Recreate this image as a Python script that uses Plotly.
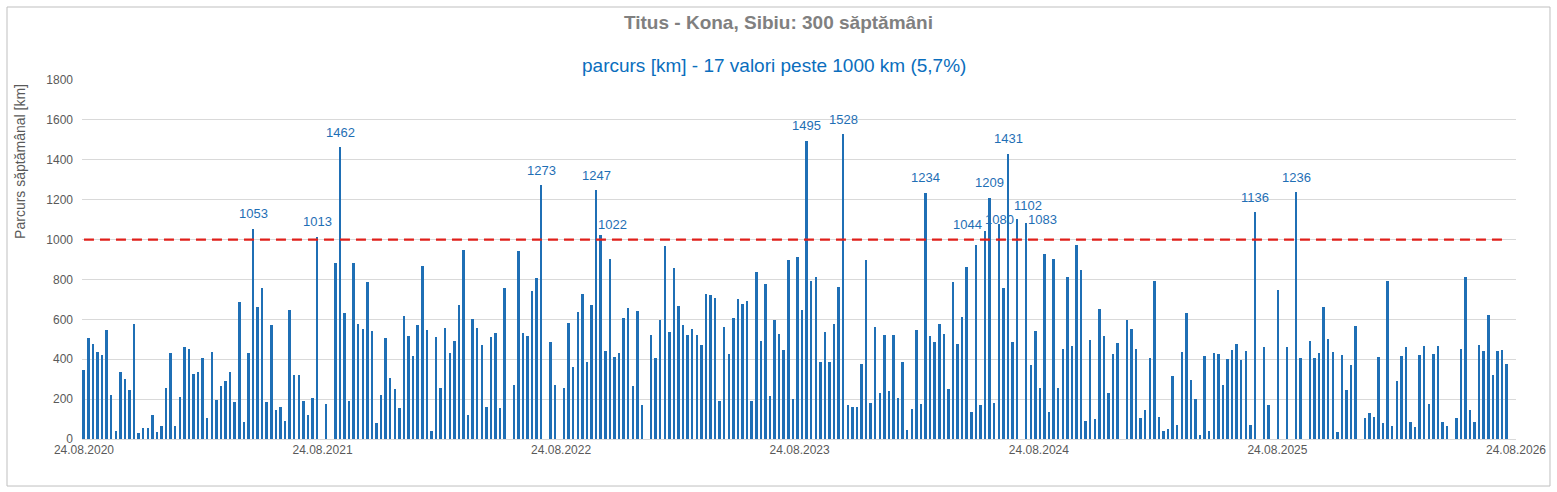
import pandas as pd
import plotly.graph_objects as go

# weekly km, one value per week starting 24.08.2020 (0 = no data that week)
km = [
    348, 508, 478, 438, 423, 548, 223, 38, 338, 303, 248, 578, 28, 53, 53, 118, 33, 63, 258, 433, 63, 213, 463, 453, 328, 338,
    408, 103, 438, 198, 268, 293, 338, 188, 688, 83, 433, 1053, 663, 758, 188, 573, 143, 158, 88, 648, 323, 323, 193, 118, 208, 1013,
    0, 178, 0, 883, 1462, 633, 193, 883, 578, 553, 788, 543, 78, 223, 508, 308, 253, 153, 618, 518, 418, 573, 868, 548, 38, 513, 258,
    558, 433, 493, 673, 948, 118, 603, 558, 473, 158, 513, 533, 153, 758, 0, 273, 943, 533, 518, 743, 808, 1273, 0, 488, 273,
    0, 258, 583, 363, 638, 728, 388, 673, 1247, 1022, 443, 903, 413, 433, 608, 658, 268, 643, 173, 0, 523, 408, 598, 968, 538, 858,
    668, 573, 523, 553, 523, 473, 728, 723, 708, 193, 563, 428, 608, 703, 678, 693, 193, 838, 493, 778, 218, 598, 528, 448, 898, 203,
    913, 648, 1495, 793, 813, 388, 538, 388, 578, 763, 1528, 168, 158, 158, 378, 898, 183, 563, 233, 523, 243, 523, 208, 388, 43, 148,
    548, 178, 1234, 518, 488, 578, 528, 253, 788, 478, 613, 863, 133, 973, 168, 1044, 1209, 183, 1080, 758, 1431, 488, 1102, 0, 1083, 373,
    543, 258, 928, 133, 903, 258, 453, 813, 468, 973, 848, 88, 498, 98, 653, 518, 233, 428, 483, 0, 598, 553, 453, 105, 143, 408,
    793, 108, 38, 48, 318, 68, 438, 633, 298, 203, 18, 418, 38, 433, 428, 273, 403, 448, 478, 398, 443, 68, 1136, 0, 463, 168,
    0, 748, 0, 463, 0, 1236, 408, 0, 493, 408, 433, 663, 503, 438, 33, 423, 248, 373, 568, 0, 103, 128, 108, 413, 78, 793,
    63, 293, 418, 463, 83, 58, 423, 468, 178, 428, 468, 83, 63, 0, 105, 450, 813, 143, 83, 470, 443, 623, 323, 443, 448, 378,
]
weeks = pd.date_range("2020-08-24", periods=len(km), freq="7D")

threshold = 1000
tick_dates = ["2020-08-24", "2021-08-24", "2022-08-24", "2023-08-24",
              "2024-08-24", "2025-08-24", "2026-08-24"]
tick_text = ["24.08.2020", "24.08.2021", "24.08.2022", "24.08.2023",
             "24.08.2024", "24.08.2025", "24.08.2026"]

# label nudges (xshift, yshift) where Excel moved the labels apart
label_offsets = {1022: (12, 11), 1044: (-18, 6), 1080: (0, 4), 1102: (11, 14), 1083: (16, 4)}

FONT = "Liberation Sans"
BLUE = "#1f6fb5"
GREY = "#595959"

fig = go.Figure()
fig.add_trace(go.Bar(x=weeks, y=km, marker_color=BLUE, width=3 * 86400000,
                     marker_line_width=0, showlegend=False, hoverinfo="skip"))
fig.add_trace(go.Scatter(x=[weeks[0], weeks[-1]], y=[threshold, threshold], mode="lines",
                         line=dict(color="#e0201b", width=2.2, dash="10px,6px"),
                         showlegend=False, hoverinfo="skip"))

for d, v in zip(weeks, km):
    if v > threshold:
        dx, dy = label_offsets.get(v, (0, 15))
        fig.add_annotation(x=d, y=v, text=str(v), showarrow=False, xshift=dx, yshift=dy,
                           yanchor="middle", font=dict(family=FONT, size=13, color=BLUE))

# subtitle and y title (Excel puts the axis title high up)
fig.add_annotation(xref="paper", yref="paper", x=0.4826, y=1.039, showarrow=False,
                   xanchor="center", yanchor="middle",
                   text="parcurs [km] - 17 valori peste 1000 km (5,7%)",
                   font=dict(family=FONT, size=19, color="#0a6ebd"))
fig.add_annotation(xref="paper", yref="paper", x=-0.0432, y=0.772, showarrow=False,
                   xanchor="center", yanchor="middle",
                   text="Parcurs săptămânal [km]", textangle=-90,
                   font=dict(family=FONT, size=14, color=GREY))

# chart border
fig.add_shape(type="rect", xref="paper", yref="paper", x0=-0.0523, x1=1.0237, y0=-0.131, y1=1.2033,
              line=dict(color="#bfbfbf", width=1), layer="below")

fig.update_layout(
    width=1557, height=492,
    margin=dict(l=82, r=41, t=80, b=53),
    plot_bgcolor="white", paper_bgcolor="white",
    hovermode=False,
    title=dict(text="<b>Titus - Kona, Sibiu: 300 săptămâni</b>", x=0.5, xanchor="center",
               y=0.955, yanchor="middle", font=dict(family=FONT, size=19, color="#808080")),
    bargap=0,
    xaxis=dict(range=["2020-08-21", "2026-08-24"], tickvals=tick_dates, ticktext=tick_text,
               showgrid=False, showline=True, linecolor="#d9d9d9", ticks="",
               tickfont=dict(family=FONT, size=12, color=GREY)),
    yaxis=dict(range=[0, 1800], dtick=200, showgrid=True, gridcolor="#d9d9d9", zeroline=False,
               ticks="", ticklabelstandoff=8, tickfont=dict(family=FONT, size=12, color=GREY)),
)

# drop the default page margin so the figure fills the window exactly
fig.write_html("out.html", config={"displayModeBar": False},
               post_script="document.body.style.margin='0';document.body.style.overflow='hidden';")
